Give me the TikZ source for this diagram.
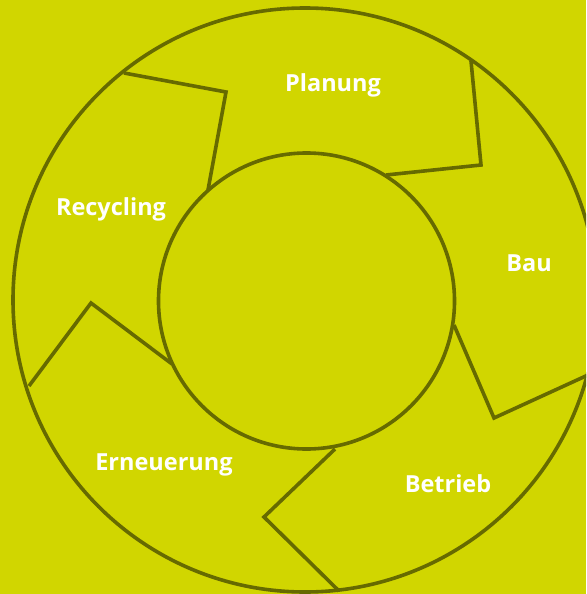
\documentclass[tikz,border=0pt]{standalone}
\usepackage{fontspec}
\setmainfont{Open Sans}
\definecolor{bgc}{RGB}{209,214,0}
\definecolor{linec}{RGB}{102,106,0}
\begin{document}
\begin{tikzpicture}[x=1pt,y=-1pt,
  ring/.style={draw=linec,line width=3.6pt},
  divider/.style={draw=linec,line width=3.6pt,line join=miter},
  phase/.style={text=white,font=\bfseries\fontsize{23.5}{28}\selectfont,inner sep=0pt}]
\useasboundingbox (0,0) rectangle (586,594);
\clip (0,0) rectangle (586,594);
\fill[bgc] (0,0) rectangle (586,594);
% circles
\coordinate (oc) at (305,300);
\coordinate (ic) at (306.5,301);
\draw[ring] (oc) circle[radius=292];
\draw[ring] (ic) circle[radius=148];
% dividers
\coordinate (a1) at (124,73);  \coordinate (a2) at (226,92);  \coordinate (a3) at (208,190);
\coordinate (b1) at (471,61);  \coordinate (b2) at (481,165); \coordinate (b3) at (386,175);
\coordinate (c1) at (454,325); \coordinate (c2) at (494,418); \coordinate (c3) at (588,375);
\coordinate (d1) at (335,449); \coordinate (d2) at (264,517); \coordinate (d3) at (339,591);
\coordinate (e1) at (29,386);  \coordinate (e2) at (91,303);  \coordinate (e3) at (172,364);
\draw[divider] (a1) -- (a2) -- (a3);
\draw[divider] (b1) -- (b2) -- (b3);
\draw[divider] (c1) -- (c2) -- (c3);
\draw[divider] (d1) -- (d2) -- (d3);
\draw[divider] (e1) -- (e2) -- (e3);
% labels
\node[phase] (planung) at (333,85) {Planung};
\node[phase] (bau) at (529,263) {Bau};
\node[phase] (betrieb) at (448,484) {Betrieb};
\node[phase] (erneuerung) at (164,465) {Erneuerung};
\node[phase] (recycling) at (111,209) {Recycling};
\end{tikzpicture}
\end{document}
